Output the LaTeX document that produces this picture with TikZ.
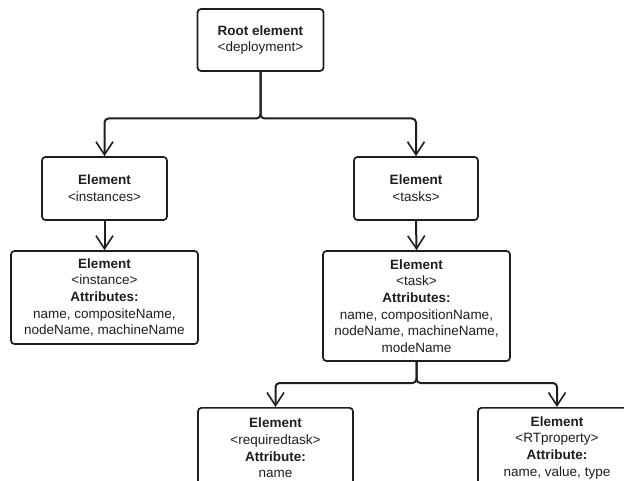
\documentclass[tikz,border=0pt]{standalone}
\usepackage{fontspec}
\setmainfont{Liberation Sans}
\usetikzlibrary{arrows.meta}
\definecolor{ink}{HTML}{1E1E1E}
\begin{document}
\begin{tikzpicture}[x=1pt,y=-1pt,
  box/.style={draw=ink, line width=1.7pt, rounded corners=3.5pt, align=center,
    inner sep=0pt, font=\fontsize{13.5}{16.7}\selectfont, text=ink},
  conn/.style={draw=ink, line width=2pt, rounded corners=4pt,
    -{Straight Barb[length=13pt,width=17pt,line width=1.6pt]}}]
\useasboundingbox (0,0) rectangle (624,481);
\clip (0,0) rectangle (624,481);

\node[box, minimum width=126pt, minimum height=62pt] (root) at (260.5,40)
  {\textbf{Root element}\\<deployment>};
\node[box, minimum width=125pt, minimum height=63pt] (insts) at (104.5,188.5)
  {\textbf{Element}\\<instances>};
\node[box, minimum width=124pt, minimum height=63pt] (tasks) at (416,188.5)
  {\textbf{Element}\\<tasks>};
\node[box, minimum width=187pt, minimum height=93pt] (inst) at (104.5,297.5)
  {\textbf{Element}\\<instance>\\\textbf{Attributes:}\\name, compositeName,\\nodeName, machineName};
\node[box, minimum width=187pt, minimum height=110pt] (task) at (416.5,306)
  {\textbf{Element}\\<task>\\\textbf{Attributes:}\\name, compositionName,\\nodeName, machineName,\\modeName};
\node[box, minimum width=155pt, minimum height=80pt, anchor=north] (req) at (275.5,407)
  {\textbf{Element}\\<requiredtask>\\\textbf{Attribute:}\\name};
\node[box, minimum width=158pt, minimum height=80pt, anchor=north] (rtp) at (557,407)
  {\textbf{Element}\\<RTproperty>\\\textbf{Attribute:}\\name, value, type};

\coordinate (j1) at (260.5,118.5);
\coordinate (j2) at (416.5,383);

\draw[conn] (root.south) -- (j1) -| (insts.north);
\draw[conn] (root.south) -- (j1) -| (tasks.north);
\draw[conn] (insts.south) -- (inst.north);
\draw[conn] (tasks.south) -- (task.north);
\draw[conn] (task.south) -- (j2) -| (req.north);
\draw[conn] (task.south) -- (j2) -| (rtp.north);
\end{tikzpicture}
\end{document}
